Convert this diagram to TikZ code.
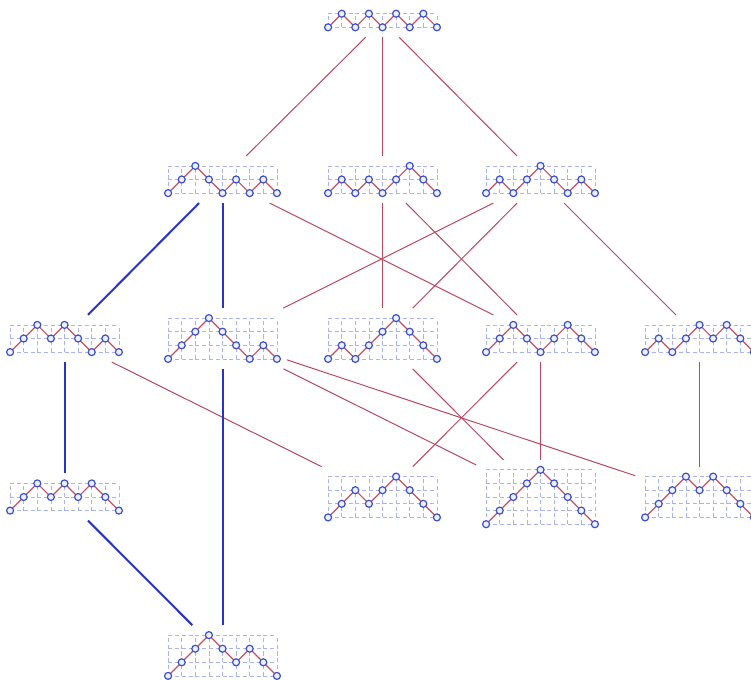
\documentclass[tikz,border=0pt]{standalone}
\usepackage{tikz}
\definecolor{edgered}{RGB}{184,72,96}
\definecolor{pathred}{RGB}{200,80,96}
\definecolor{edgeblue}{RGB}{40,52,200}
\definecolor{dotblue}{RGB}{58,80,208}
\definecolor{dotfill}{RGB}{238,240,255}
\definecolor{gridblue}{RGB}{170,180,238}
\tikzset{
  box/.style={rectangle, minimum width=128.8pt, inner sep=0pt, outer sep=0pt},
  gridline/.style={draw=gridblue, line width=0.7pt, dash pattern=on 4.1pt off 2.7pt},
  pathline/.style={draw=pathred, line width=1.2pt},
  dot/.style={draw=dotblue, fill=dotfill, line width=1.2pt},
  redge/.style={draw=edgered, line width=1pt},
  bedge/.style={draw=edgeblue, line width=2pt},
}
% #1 name, #2 centre x, #3 centre y (downward), #4 heights after start, #5 max height
\newcommand\dyckdraw[5]{%
  \pgfmathsetmacro\hh{#5*13.6}%
  \node[box, minimum height={\hh pt+20pt}] (#1) at (#2,-#3) {};
  \begin{scope}[shift={(#2-54.4,-#3-\hh/2)}]
    \foreach \k in {0,...,8} \draw[gridline] (\k*13.6,0) -- (\k*13.6,\hh);
    \foreach \k in {0,...,#5} \draw[gridline] (0,\k*13.6) -- (108.8,\k*13.6);
    \draw[pathline] (0,0) \foreach \y [count=\i] in {#4} { -- (\i*13.6,\y*13.6) };
    \foreach \y [count=\i from 0] in {0,#4} \draw[dot] (\i*13.6,\y*13.6) circle (3.5);
  \end{scope}
}
\begin{document}
\begin{tikzpicture}[x=1pt,y=1pt]
\useasboundingbox (0,0) rectangle (751,-679);
% row 0
\dyckdraw{t}{382.5}{20.5}{1,0,1,0,1,0,1,0}{1}
% row 1
\dyckdraw{a1}{222.5}{179.5}{1,2,1,0,1,0,1,0}{2}
\dyckdraw{a2}{382.5}{179.5}{1,0,1,0,1,2,1,0}{2}
\dyckdraw{a3}{540.5}{179.5}{1,0,1,2,1,0,1,0}{2}
% row 2
\dyckdraw{b1}{64.5}{338.5}{1,2,1,2,1,0,1,0}{2}
\dyckdraw{b2}{222.5}{338.5}{1,2,3,2,1,0,1,0}{3}
\dyckdraw{b3}{382.5}{338.5}{1,0,1,2,3,2,1,0}{3}
\dyckdraw{b4}{540.5}{338.5}{1,2,1,0,1,2,1,0}{2}
\dyckdraw{b5}{699.5}{338.5}{1,0,1,2,1,2,1,0}{2}
% row 3
\dyckdraw{c1}{64.5}{497}{1,2,1,2,1,2,1,0}{2}
\dyckdraw{c2}{382.5}{497}{1,2,1,2,3,2,1,0}{3}
\dyckdraw{c3}{540.5}{497}{1,2,3,4,3,2,1,0}{4}
\dyckdraw{c4}{699.5}{497}{1,2,3,2,3,2,1,0}{3}
% row 4
\dyckdraw{d}{222.5}{655.5}{1,2,3,2,1,2,1,0}{3}
% red edges
\draw[redge] (t) -- (a1);
\draw[redge] (t) -- (a2);
\draw[redge] (t) -- (a3);
\draw[redge] (a1) -- (b4);
\draw[redge] (a2) -- (b3);
\draw[redge] (a2) -- (b4);
\draw[redge] (a3) -- (b2);
\draw[redge] (a3) -- (b3);
\draw[redge] (a3) -- (b5);
\draw[redge] (b1) -- (c2);
\draw[redge] (b2) -- (c3);
\draw[redge] (b2) -- (c4);
\draw[redge] (b3) -- (c3);
\draw[redge] (b4) -- (c2);
\draw[redge] (b4) -- (c3);
\draw[redge] (b5) -- (c4);
% blue edges
\draw[bedge] (a1) -- (b1);
\draw[bedge] (a1) -- (b2);
\draw[bedge] (b1) -- (c1);
\draw[bedge] (b2) -- (d);
\draw[bedge] (c1) -- (d);
\end{tikzpicture}
\end{document}
